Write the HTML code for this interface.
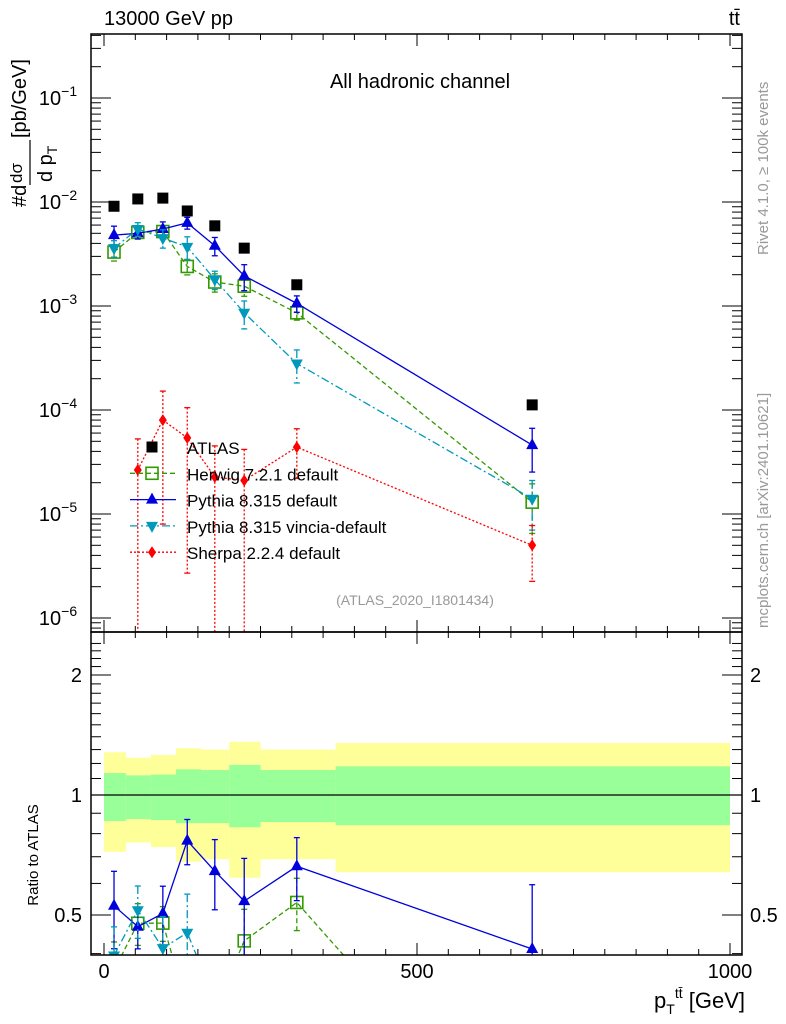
<!DOCTYPE html>
<html><head><meta charset="utf-8"><style>
html,body{margin:0;padding:0;background:#fff;overflow:hidden;width:786px;height:1024px;}
svg{font-family:"Liberation Sans",sans-serif;display:block;}
</style></head><body>
<svg id="c" width="786" height="1024" xmlns="http://www.w3.org/2000/svg"></svg>
<script>
const edges=[0,35,75,115,155,200,250,370,1000];
const centers=[16,54,94,133,177,224,308,684];
const atlas=[9.1e-3,1.07e-2,1.09e-2,8.2e-3,5.9e-3,3.6e-3,1.6e-3,1.12e-4];
const herwig=[3.3e-3,5.1e-3,5.2e-3,2.4e-3,1.7e-3,1.55e-3,8.6e-4,1.3e-5];
const herwigErr=[0.18,0.12,0.1,0.17,0.2,0.2,0.15,0.5];
const pythia=[4.8e-3,5.0e-3,5.5e-3,6.3e-3,3.8e-3,1.95e-3,1.06e-3,4.6e-5];
const pythiaErr=[0.22,0.12,0.17,0.13,0.2,0.28,0.18,0.45];
const vincia=[3.6e-3,5.5e-3,4.5e-3,3.7e-3,1.8e-3,8.6e-4,2.8e-4,1.4e-5];
const vinciaErr=[0.18,0.15,0.2,0.25,0.2,0.3,0.35,0.5];
const sherpa=[null,2.65e-5,8.0e-5,5.4e-5,2.27e-5,2.1e-5,4.4e-5,5.0e-6];
const sherpaErr=[0,0.99,0.9,0.95,0.99,0.99,0.5,0.55];
const greenHi=[1.135,1.12,1.125,1.16,1.155,1.19,1.155,1.18];
const greenLo=[0.86,0.87,0.865,0.85,0.85,0.83,0.855,0.84];
const yellowHi=[1.28,1.24,1.26,1.31,1.30,1.36,1.30,1.35];
const yellowLo=[0.72,0.76,0.74,0.68,0.69,0.62,0.69,0.64];

const NS="http://www.w3.org/2000/svg";
const svg=document.getElementById('c');
function el(t,a,p){const e=document.createElementNS(NS,t);for(const k in a)e.setAttribute(k,a[k]);(p||svg).appendChild(e);return e;}
const L=91,R=742,T=34,M=632,B=955;
const X=v=>104+v*0.626;
const Y=v=>202-104*(Math.log10(v)+2);
const YR=v=>795-398.6*Math.log10(v);
const defs=el('defs',{});
const c1=el('clipPath',{id:'cm'},defs);el('rect',{x:L,y:T,width:R-L,height:M-T},c1);
const c2=el('clipPath',{id:'cr'},defs);el('rect',{x:L,y:M,width:R-L,height:B-M},c2);
const gm=el('g',{'clip-path':'url(#cm)'});


const gr=el('g',{'clip-path':'url(#cr)'});



for(let i=0;i<8;i++){
  const x0=X(edges[i]),x1=X(edges[i+1]);
  const y=el('rect',{x:x0,y:YR(yellowHi[i]),width:x1-x0,height:YR(yellowLo[i])-YR(yellowHi[i]),fill:'#ffff99'},gr);
  
  
  const g=el('rect',{x:x0,y:YR(greenHi[i]),width:x1-x0,height:YR(greenLo[i])-YR(greenHi[i]),fill:'#99ff99'},gr);
  
  
}
el('line',{x1:L,x2:R,y1:YR(1),y2:YR(1),stroke:'#000','stroke-width':1.3},gr);

function marker(g,type,x,y,col){
  if(type==='sq')return el('rect',{x:x-6,y:y-6,width:12,height:12,fill:'none',stroke:col,'stroke-width':1.6},g);
  if(type==='up')return el('polygon',{points:`${x},${y-7} ${x-6},${y+4} ${x+6},${y+4}`,fill:col},g);
  if(type==='dn')return el('polygon',{points:`${x},${y+7} ${x-6},${y-4} ${x+6},${y-4}`,fill:col},g);
  if(type==='dia')return el('polygon',{points:`${x},${y-6} ${x-4},${y} ${x},${y+6} ${x+4},${y}`,fill:col},g);
  return el('rect',{x:x-5.5,y:y-5.5,width:11,height:11,fill:col},g);
}
const series=[
 {name:'herwig',v:herwig,e:herwigErr,col:'#339900',dash:'5,3',m:'sq'},
 {name:'pythia',v:pythia,e:pythiaErr,col:'#0000dd',dash:'',m:'up'},
 {name:'vincia',v:vincia,e:vinciaErr,col:'#0099bb',dash:'8,3,2,3',m:'dn'},
 {name:'sherpa',v:sherpa,e:sherpaErr,col:'#ff0000',dash:'2,2',m:'dia'}
];
function draw(g,s,ratio){
  const yf=ratio?YR:Y;
  const pts=[];
  s.v.forEach((v,i)=>{if(v==null)return;const val=ratio?v/atlas[i]:v;pts.push([X(centers[i]),yf(val),val,i]);});
  const pl=el('polyline',{points:pts.map(p=>p[0]+','+p[1]).join(' '),fill:'none',stroke:s.col,'stroke-width':1.3,'stroke-dasharray':s.dash},g);
  
  
  pts.forEach(p=>{
    const e=s.e[p[3]];const lo=Math.max(p[2]*(1-e),1e-9),hi=p[2]*(1+e);
    el('line',{x1:p[0],x2:p[0],y1:yf(hi),y2:yf(lo),stroke:s.col,'stroke-width':1.3,'stroke-dasharray':s.dash},g);
    el('line',{x1:p[0]-3,x2:p[0]+3,y1:yf(hi),y2:yf(hi),stroke:s.col,'stroke-width':1.3},g);
    el('line',{x1:p[0]-3,x2:p[0]+3,y1:yf(lo),y2:yf(lo),stroke:s.col,'stroke-width':1.3},g);
    const mk=marker(g,s.m,p[0],p[1],s.col);
    
    
  });
}
series.forEach(s=>{draw(gm,s,false);draw(gr,s,true);});
atlas.forEach((v,i)=>{const m=marker(gm,'atlas',X(centers[i]),Y(v),'#000');
  
  });

el('rect',{x:L,y:T,width:R-L,height:M-T,fill:'none',stroke:'#000','stroke-width':1.5});
el('rect',{x:L,y:M,width:R-L,height:B-M,fill:'none',stroke:'#000','stroke-width':1.5});
for(let v=0;v<=1000;v+=50){const x=X(v);const big=v%500===0;const len=big?12:6;
  [T,M].forEach(y0=>el('line',{x1:x,x2:x,y1:y0,y2:y0+len,stroke:'#000'}));
  [M,B].forEach(y0=>el('line',{x1:x,x2:x,y1:y0,y2:y0-len,stroke:'#000'}));
  if(big){const t=el('text',{x:x,y:978,'font-size':20,'text-anchor':'middle'});t.textContent=v;
    
    }
}
for(let d=-7;d<=0;d++){for(let k=1;k<10;k++){const v=k*Math.pow(10,d);const y=Y(v);if(y<T||y>M)continue;
  const len=k===1?20:10;el('line',{x1:L,x2:L+len,y1:y,y2:y,stroke:'#000'});el('line',{x1:R,x2:R-len,y1:y,y2:y,stroke:'#000'});
  if(k===1){const t=el('text',{x:58,y:y+7,'font-size':20,'text-anchor':'middle'});t.innerHTML='10<tspan dy="-9" font-size="14">'+String(d).replace('-','−')+'</tspan>';
    
    }
}}
for(let v=0.4;v<=2.5;v+=0.1){const y=YR(v);if(y<M||y>B)continue;const big=Math.abs(v-0.5)<1e-6||Math.abs(v-1)<1e-6||Math.abs(v-2)<1e-6;const len=big?20:10;
  el('line',{x1:L,x2:L+len,y1:y,y2:y,stroke:'#000'});el('line',{x1:R,x2:R-len,y1:y,y2:y,stroke:'#000'});}
[[2,'2'],[1,'1'],[0.5,'0.5']].forEach(([v,s])=>{
  const a=el('text',{x:82,y:YR(v)+7,'font-size':20,'text-anchor':'end'});a.textContent=s;
  
  
  const b=el('text',{x:750,y:YR(v)+7,'font-size':20});b.textContent=s;
  
  
});
function txt(x,y,s,a,name){const t=el('text',Object.assign({x:x,y:y},a));t.innerHTML=s;
  return t;}
txt(104,25,'13000 GeV pp',{'font-size':20},'energy-label');
txt(740,25,'tt̄',{'font-size':20,'text-anchor':'end'},'process-label');
txt(420,88,'All hadronic channel',{'font-size':20,'text-anchor':'middle'},'channel-label');
txt(415,605,'(ATLAS_2020_I1801434)',{'font-size':14,'text-anchor':'middle',fill:'#999'},'analysis-id');
txt(745,1008,'p<tspan dy="6" font-size="14">T</tspan><tspan dy="-16" font-size="14">tt̄</tspan><tspan dy="10"> [GeV]</tspan>',{'font-size':22,'text-anchor':'end'},'x-axis-title');
txt(0,0,'Ratio to ATLAS',{'font-size':15,transform:'translate(38,855) rotate(-90)','text-anchor':'middle'},'ratio-y-axis-title');
// y-axis title as fraction
const yt=el('g',{transform:'translate(0,0)'});


el('text',{'font-size':20,transform:'translate(26,207) rotate(-90)'},yt).textContent='#d';
el('text',{'font-size':17,transform:'translate(22,183) rotate(-90)'},yt).textContent='dσ';
el('line',{x1:30,x2:30,y1:185,y2:140,stroke:'#000','stroke-width':1.2},yt);
el('text',{'font-size':20,transform:'translate(52,182) rotate(-90)'},yt).innerHTML='d p<tspan font-size="14" dy="5">T</tspan>';
el('text',{'font-size':20,transform:'translate(26,138) rotate(-90)'},yt).textContent='[pb/GeV]';
txt(0,0,'Rivet 4.1.0, ≥ 100k events',{'font-size':15,fill:'#999',transform:'translate(768,255) rotate(-90)'},'rivet-label');
txt(0,0,'mcplots.cern.ch [arXiv:2401.10621]',{'font-size':15,fill:'#999',transform:'translate(768,628) rotate(-90)'},'mcplots-label');
const leg=[['ATLAS','atlas','#000',''],['Herwig 7.2.1 default','sq','#339900','5,3'],['Pythia 8.315 default','up','#0000dd',''],['Pythia 8.315 vincia-default','dn','#0099bb','8,3,2,3'],['Sherpa 2.2.4 default','dia','#ff0000','2,2']];
leg.forEach((l,i)=>{const y=447+i*26.3;const g=el('g',{});
  
  
  if(i>0)el('line',{x1:130,x2:176,y1:y,y2:y,stroke:l[2],'stroke-width':1.3,'stroke-dasharray':l[3]},g);
  marker(g,l[1],152,y,l[2]);
  const t=el('text',{x:187,y:y+7,'font-size':17},g);t.textContent=l[0];});
</script>
</body></html>
